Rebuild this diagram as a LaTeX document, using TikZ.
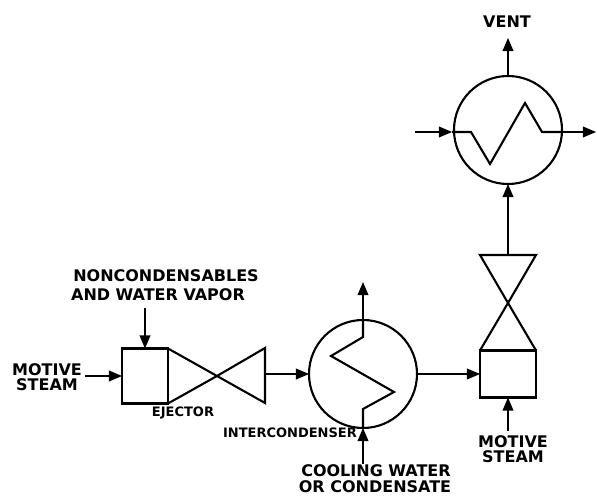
\documentclass[tikz,border=0pt]{standalone}
\usepackage{fontspec}
\setmainfont{DejaVu Sans}
\usetikzlibrary{shapes,arrows}
\tikzset{
  line/.style     = {line width=2.1pt},
  block/.style    = {draw, line, rectangle, inner sep=0pt, outer sep=0pt},
  vessel/.style   = {draw, line, circle, inner sep=0pt, outer sep=0pt, minimum size=108pt},
  input/.style    = {coordinate},
  output/.style   = {coordinate},
  tag/.style      = {inner sep=0pt, align=center, font=\bfseries\fontsize{16}{15}\selectfont},
  smalltag/.style = {inner sep=0pt, font=\bfseries\fontsize{13}{13}\selectfont}
}

\begin{document}
\begin{tikzpicture}[x=1pt, y=1pt, auto, node distance=40pt, >=triangle 45]
\useasboundingbox (0,0) rectangle (597,497);

% Ejector
\draw node [block, minimum width=46pt, minimum height=55pt] (box1) at (145,121) {};
\draw node [input, name=throat1, right of=box1, node distance=72pt] {};
\draw node [input, name=mouth1a, right of=box1, xshift=120pt, yshift=28pt, node distance=0pt] {};
\draw node [input, name=mouth1b, right of=box1, xshift=120pt, yshift=-27pt, node distance=0pt] {};
\draw node [input, name=mouth1, right of=box1, yshift=2pt, node distance=120pt] {};
\draw node [input, name=motive1, left of=box1, node distance=60pt] {};
\draw node [input, name=vapor, above of=box1, node distance=68pt] {};

% Intercondenser
\draw node [vessel, right of=box1, yshift=2pt, node distance=218pt] (cond1) {};
\draw node [input, name=coil1, right of=cond1, xshift=-32pt, yshift=18pt, node distance=0pt] {};
\draw node [input, name=coil2, right of=cond1, xshift=31pt, yshift=-18pt, node distance=0pt] {};
\draw node [input, name=coil3, below of=cond1, node distance=35pt] {};
\draw node [input, name=coil4, above of=cond1, node distance=37pt] {};
\draw node [input, name=water, below of=cond1, node distance=90pt] {};
\draw node [output, name=waterout, above of=cond1, node distance=92pt] {};

% Second ejector
\draw node [block, minimum width=56pt, minimum height=47pt, right of=cond1, node distance=145pt] (box2) {};
\draw node [input, name=throat2, above of=box2, node distance=71pt] {};
\draw node [input, name=mouth2a, above of=box2, xshift=-28pt, node distance=119pt] {};
\draw node [input, name=mouth2b, above of=box2, xshift=28pt, node distance=119pt] {};
\draw node [input, name=mouth2, above of=box2, node distance=119pt] {};
\draw node [input, name=motive2, below of=box2, node distance=57pt] {};

% Aftercondenser
\draw node [vessel, above of=box2, node distance=244pt] (cond2) {};
\draw node [input, name=tube0, left of=cond2, yshift=-2pt, node distance=93pt] {};
\draw node [input, name=tube1, left of=cond2, yshift=-2pt, node distance=56pt] {};
\draw node [input, name=tube2, left of=cond2, yshift=-2pt, node distance=37pt] {};
\draw node [input, name=tube3, left of=cond2, xshift=-18pt, yshift=-34pt, node distance=0pt] {};
\draw node [input, name=tube4, right of=cond2, xshift=17pt, yshift=27pt, node distance=0pt] {};
\draw node [input, name=tube5, right of=cond2, yshift=-2pt, node distance=34pt] {};
\draw node [input, name=tube6, right of=cond2, yshift=-2pt, node distance=54pt] {};
\draw node [output, name=tube7, right of=cond2, yshift=-2pt, node distance=88pt] {};
\draw node [output, name=vent, above of=cond2, node distance=92pt] {};

% Labels
\draw node [tag, name=t1, at={(166,221)}] {NONCONDENSABLES};
\draw node [tag, name=t2, at={(158,202)}] {AND WATER VAPOR};
\draw node [tag, name=t3, at={(47,120)}] {MOTIVE\\STEAM};
\draw node [smalltag, name=t4, at={(183,84)}] {EJECTOR};
\draw node [smalltag, name=t5, at={(290,64)}] {INTERCONDENSER};
\draw node [tag, name=t6, at={(376,26)}] {COOLING WATER};
\draw node [tag, name=t7, at={(375,10)}] {OR CONDENSATE};
\draw node [tag, name=t8, at={(513,48)}] {MOTIVE\\STEAM};
\draw node [tag, name=t9, at={(507,475)}] {VENT};

% Connections
\draw[line] (box1.north east) -- (throat1) -- (mouth1a) -- (mouth1b) -- (throat1) -- (box1.south east);
\draw[line] (box2.north west) -- (throat2) -- (mouth2b) -- (mouth2a) -- (throat2) -- (box2.north east);
\draw[line, ->] (motive1) -- (box1);
\draw[line, ->] (vapor) -- (box1.north);
\draw[line, ->] (mouth1) -- (cond1.west);
\draw[line, ->] (water) -- (cond1.south);
\draw[line] (cond1.south) -- (coil3) -- (coil2) -- (coil1) -- (coil4) -- (cond1.north);
\draw[line, ->] (cond1.north) -- (waterout);
\draw[line, ->] (cond1.east) -- (box2.west);
\draw[line, ->] (motive2) -- (box2.south);
\draw[line, ->] (mouth2) -- (cond2.south);
\draw[line, ->] (tube0) -- (tube1);
\draw[line] (tube1) -- (tube2) -- (tube3) -- (tube4) -- (tube5) -- (tube6);
\draw[line, ->] (tube6) -- (tube7);
\draw[line, ->] (cond2.north) -- (vent);

\end{tikzpicture}
\end{document}
